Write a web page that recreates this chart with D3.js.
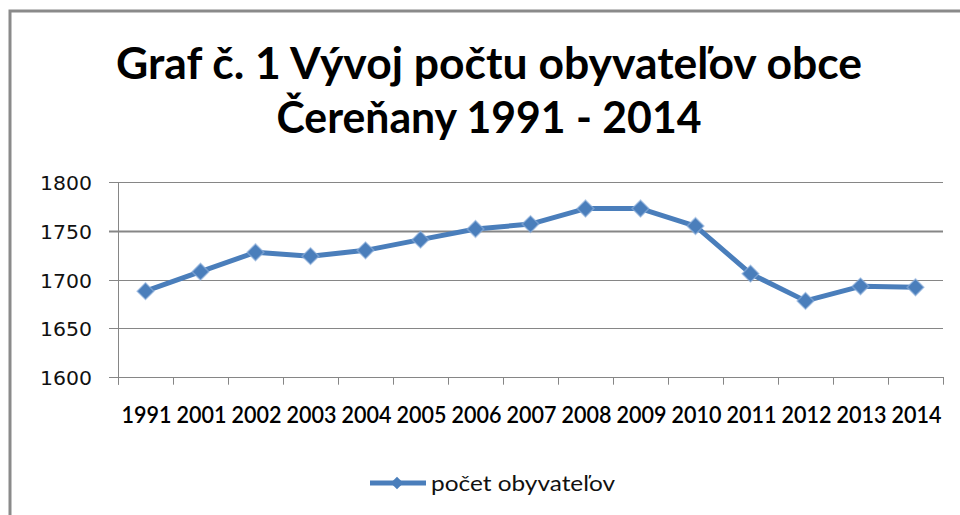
<!DOCTYPE html>
<html>
<head>
<meta charset="utf-8">
<script src="https://cdn.jsdelivr.net/npm/d3@7/dist/d3.min.js"></script>
<style>
  html, body { margin: 0; padding: 0; background: #fff; }
  svg { display: block; }
</style>
</head>
<body>
<svg id="chart" width="960" height="515"></svg>
<script>
// ---- data ----
const titleLines = ["Graf č. 1 Vývoj počtu obyvateľov obce", "Čereňany 1991 - 2014"];
const years = ["1991","2001","2002","2003","2004","2005","2006","2007","2008","2009","2010","2011","2012","2013","2014"];
const population = [1688,1708,1728,1724,1730,1741,1752,1757,1773,1773,1755,1706,1678,1693,1692];
const yTicks = [1600,1650,1700,1750,1800];
const seriesName = "počet obyvateľov";

// ---- layout ----
const svg = d3.select("#chart");
const lineColor = "#4a7ebb";
const gridColor = "#868686";
const plot = { left: 118, right: 943, top: 182.3, bottom: 376.7 };

// outer frame (top + left visible)
svg.append("path")
  .attr("d", "M10,515 L10,11 L960,11")
  .attr("fill", "none").attr("stroke", "#8a8a8a").attr("stroke-width", 3);

// title
const titleWidths = [746, 425];
const titleBaselines = [79, 133];
titleLines.forEach((t, i) => {
  svg.append("text")
    .attr("x", 489).attr("y", titleBaselines[i])
    .attr("text-anchor", "middle")
    .attr("font-family", "Lato, 'Open Sans', sans-serif")
    .attr("font-weight", "bold")
    .attr("font-size", 44)
    .attr("fill", "#000")
    .attr("textLength", titleWidths[i])
    .attr("lengthAdjust", "spacingAndGlyphs")
    .text(t);
});

// scales
const x = d3.scaleBand().domain(years).range([plot.left, plot.right]).padding(0);
const y = d3.scaleLinear().domain([1600, 1800]).range([plot.bottom, plot.top]);
const cx = d => x(d) + x.bandwidth() / 2;

// grid lines
svg.append("g").selectAll("line").data(yTicks).join("line")
  .attr("x1", plot.left - 9).attr("x2", plot.right)
  .attr("y1", d => Math.round(y(d)) + 0.5).attr("y2", d => Math.round(y(d)) + 0.5)
  .attr("stroke", gridColor)
  .attr("stroke-width", d => d === 1750 ? 2 : 1);

// y axis line
svg.append("line")
  .attr("x1", plot.left + 0.5).attr("x2", plot.left + 0.5)
  .attr("y1", Math.round(plot.top)).attr("y2", plot.bottom + 8)
  .attr("stroke", gridColor).attr("stroke-width", 1);

// x tick marks at band boundaries
const boundaries = years.map(d => x(d)).concat([plot.right]);
svg.append("g").selectAll("line").data(boundaries).join("line")
  .attr("x1", d => Math.round(d) + 0.5).attr("x2", d => Math.round(d) + 0.5)
  .attr("y1", Math.round(plot.bottom)).attr("y2", plot.bottom + 8)
  .attr("stroke", gridColor).attr("stroke-width", 1);

// y labels
svg.append("g").selectAll("text").data(yTicks).join("text")
  .attr("x", 92).attr("y", d => y(d) + 8)
  .attr("text-anchor", "end")
  .attr("font-family", "'DejaVu Sans', sans-serif")
  .attr("font-size", 20)
  .attr("fill", "#111")
  .attr("textLength", 52)
  .attr("lengthAdjust", "spacingAndGlyphs")
  .text(d => d);

// x labels
svg.append("g").selectAll("text").data(years).join("text")
  .attr("x", d => cx(d) + 1).attr("y", 423)
  .attr("text-anchor", "middle")
  .attr("font-family", "Lato, sans-serif")
  .attr("font-size", 22)
  .attr("font-weight", 600)
  .attr("fill", "#000")
  .attr("textLength", 50)
  .attr("lengthAdjust", "spacingAndGlyphs")
  .text(d => d);

// line
const line = d3.line().x((d, i) => cx(years[i])).y(d => y(d));
svg.append("path")
  .datum(population)
  .attr("d", line)
  .attr("fill", "none")
  .attr("stroke", lineColor)
  .attr("stroke-width", 5)
  .attr("stroke-linejoin", "round");

// markers (diamonds)
const diamond = d3.symbol().type(d3.symbolSquare).size(140);
svg.append("g").selectAll("path").data(population).join("path")
  .attr("d", diamond)
  .attr("transform", (d, i) => `translate(${cx(years[i])},${y(d)}) rotate(45)`)
  .attr("fill", lineColor)
  .attr("stroke", "#8fb1dc")
  .attr("stroke-opacity", 0.6)
  .attr("stroke-width", 1.5);

// legend
const lg = svg.append("g");
lg.append("line")
  .attr("x1", 370).attr("x2", 426).attr("y1", 483).attr("y2", 483)
  .attr("stroke", lineColor).attr("stroke-width", 5);
lg.append("path")
  .attr("d", d3.symbol().type(d3.symbolSquare).size(80))
  .attr("transform", "translate(397,483) rotate(45)")
  .attr("fill", lineColor);
lg.append("text")
  .attr("x", 431).attr("y", 491)
  .attr("font-family", "Lato, sans-serif")
  .attr("font-size", 22)
  .attr("fill", "#111")
  .attr("textLength", 184)
  .attr("lengthAdjust", "spacingAndGlyphs")
  .text(seriesName);
</script>
</body>
</html>
